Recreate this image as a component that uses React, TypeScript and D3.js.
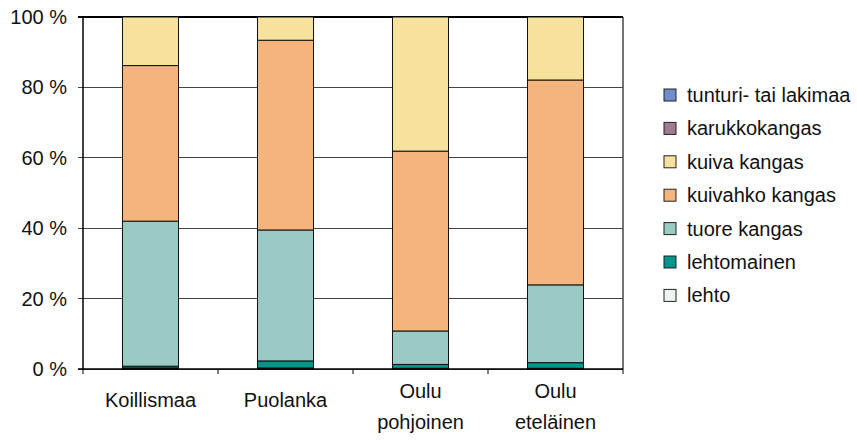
import * as d3 from 'd3';

const categories = ['Koillismaa', 'Puolanka', 'Oulu pohjoinen', 'Oulu eteläinen'];
const categoryLines = [['Koillismaa'], ['Puolanka'], ['Oulu', 'pohjoinen'], ['Oulu', 'eteläinen']];

// percent shares, bottom to top
const lehto = [0.3, 0.3, 0.2, 0.2];
const lehtomainen = [0.5, 2.0, 1.1, 1.6];
const tuoreKangas = [41.2, 37.2, 9.5, 22.1];
const kuivahkoKangas = [44.2, 53.9, 51.1, 58.2];
const kuivaKangas = [13.8, 6.6, 38.1, 17.9];
const karukkokangas = [0, 0, 0, 0];
const tunturi = [0, 0, 0, 0];

const seriesNames = [
  'lehto',
  'lehtomainen',
  'tuore kangas',
  'kuivahko kangas',
  'kuiva kangas',
  'karukkokangas',
  'tunturi- tai lakimaa',
];
const seriesValues = [lehto, lehtomainen, tuoreKangas, kuivahkoKangas, kuivaKangas, karukkokangas, tunturi];
const seriesColors = ['#EEF4F2', '#00968A', '#99CBC4', '#F5B47B', '#F6E29D', '#A07B91', '#6E8ECC'];

const yTicks = [0, 20, 40, 60, 80, 100];

const W = 857;
const H = 440;
const PLOT = { left: 83, right: 623, top: 17, bottom: 369 };
const FONT = '"Liberation Sans", Arial, sans-serif';
const FS = 20;

export default function App() {
  const x = d3.scaleBand<string>()
    .domain(categories)
    .range([PLOT.left, PLOT.right])
    .paddingInner(0.585)
    .paddingOuter(0.2925);

  const y = d3.scaleLinear().domain([0, 100]).range([PLOT.bottom, PLOT.top]);

  const rows = categories.map((c, i) => {
    const r: Record<string, number | string> = { cat: c };
    seriesNames.forEach((s, k) => (r[s] = seriesValues[k][i]));
    return r;
  });
  const stacked = d3.stack<Record<string, number | string>>()
    .keys(seriesNames)
    .value((d, key) => d[key] as number)(rows);

  const step = (PLOT.right - PLOT.left) / categories.length;

  return (
    <svg width={W} height={H} style={{ position: 'absolute', left: 0, top: 0, background: '#fff' }} fontFamily={FONT}>
      {/* gridlines */}
      {yTicks.map((t) => (
        <line key={t} x1={PLOT.left - 5} x2={PLOT.right} y1={y(t)} y2={y(t)}
          stroke={t === 100 ? '#000' : '#444'} strokeWidth={t === 100 ? 1.5 : 1} shapeRendering="crispEdges" />
      ))}
      {/* bars */}
      {stacked.map((layer, k) => (
        <g key={seriesNames[k]}>
          {layer.map((d, i) => {
            const h = y(d[0]) - y(d[1]);
            if (h <= 0) return null;
            return (
              <rect key={i} x={x(categories[i])} y={y(d[1])} width={x.bandwidth()} height={h}
                fill={seriesColors[k]} stroke="#111" strokeWidth={1} />
            );
          })}
        </g>
      ))}
      {/* axes */}
      <line x1={PLOT.left} x2={PLOT.left} y1={PLOT.top} y2={PLOT.bottom} stroke="#000" strokeWidth={1.5} />
      <line x1={PLOT.right} x2={PLOT.right} y1={PLOT.top} y2={PLOT.bottom} stroke="#444" strokeWidth={1.5} />
      <line x1={PLOT.left - 5} x2={PLOT.right} y1={PLOT.bottom} y2={PLOT.bottom} stroke="#000" strokeWidth={1.5} />
      {d3.range(categories.length + 1).map((i) => (
        <line key={i} x1={PLOT.left + i * step} x2={PLOT.left + i * step} y1={PLOT.bottom} y2={PLOT.bottom + 5}
          stroke="#000" strokeWidth={1} />
      ))}
      {yTicks.map((t) => (
        <text key={t} x={67} y={y(t)} dy="0.35em" textAnchor="end" fontSize={FS} fill="#111">{`${t} %`}</text>
      ))}
      {categoryLines.map((lines, i) => {
        const cx = (x(categories[i]) ?? 0) + x.bandwidth() / 2;
        return (
          <text key={i} x={cx} y={lines.length > 1 ? 398 : 407} textAnchor="middle" fontSize={FS} fill="#111">
            {lines.map((l, j) => (
              <tspan key={j} x={cx} dy={j === 0 ? 0 : 31}>{l}</tspan>
            ))}
          </text>
        );
      })}
      {/* legend */}
      {seriesNames.slice().reverse().map((s, j) => {
        const k = seriesNames.length - 1 - j;
        const cy = 95 + j * 33.4;
        return (
          <g key={s}>
            <rect x={664} y={cy - 6} width={12} height={12} fill={seriesColors[k]} stroke="#222" strokeWidth={1} />
            <text x={687} y={cy} dy="0.35em" fontSize={FS} fill="#111">{s}</text>
          </g>
        );
      })}
    </svg>
  );
}
